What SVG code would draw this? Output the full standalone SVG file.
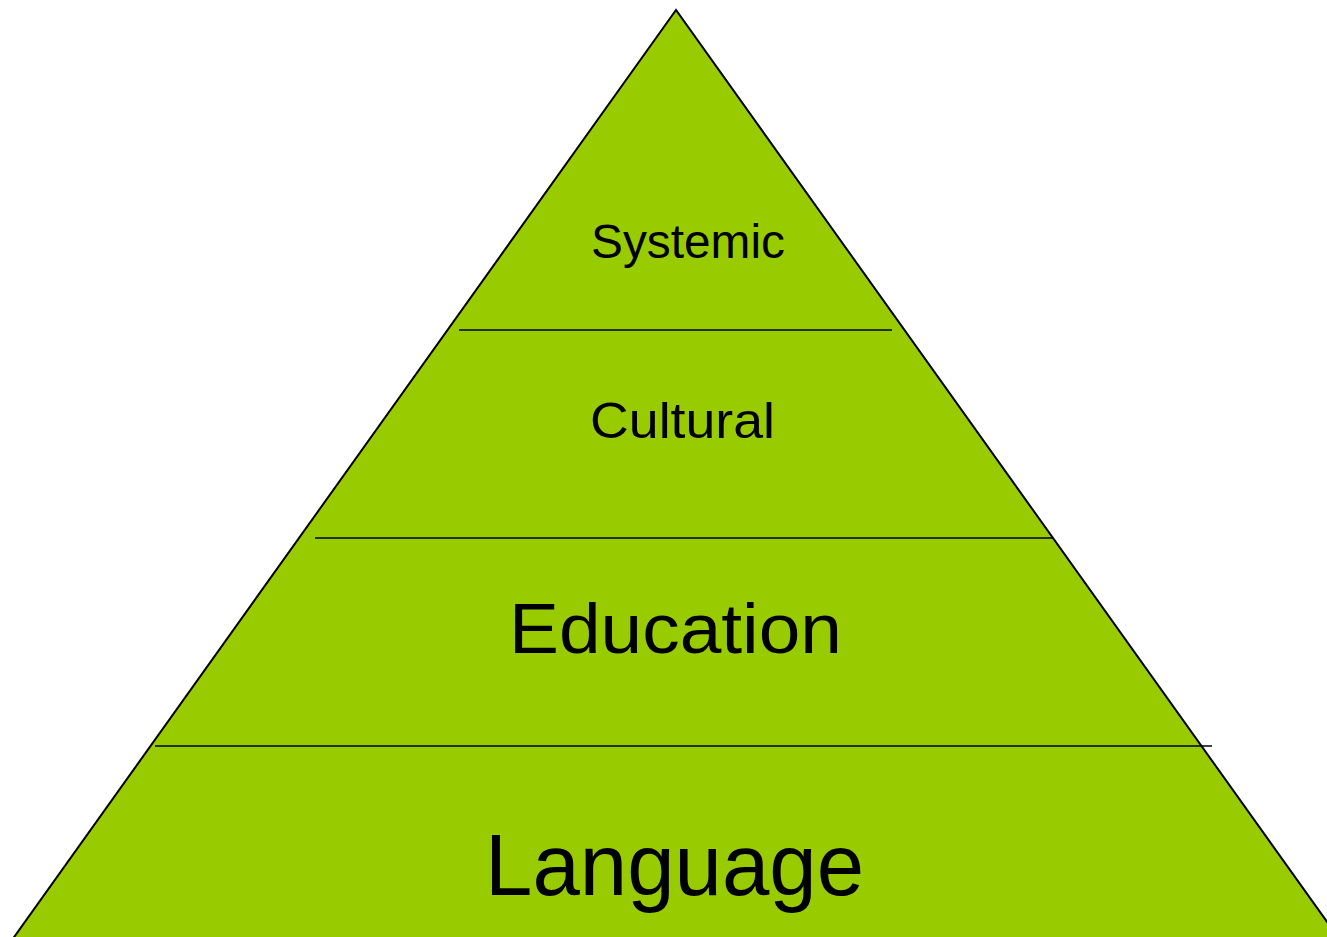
<svg xmlns="http://www.w3.org/2000/svg" width="1327" height="937" viewBox="0 0 1327 937">
<style>
.lbl{font-family:"Liberation Sans",Arial,sans-serif;fill:#000;}
.div{stroke:#000;stroke-width:1.5;fill:none;}
</style>
<rect width="1327" height="937" fill="#fff"/>
<g id="pyramid">
<polygon points="676,10 12,940 1340,940" fill="#99cc00" stroke="#000" stroke-width="2"/>
</g>
<g id="connectors">
<line class="div" x1="459" y1="330" x2="892" y2="330"/>
<line class="div" x1="315" y1="538" x2="1053" y2="538"/>
<line class="div" x1="155" y1="746" x2="1212" y2="746"/>
</g>
<g id="systemic"><text class="lbl" x="591" y="258" font-size="48" textLength="194" lengthAdjust="spacingAndGlyphs">Systemic</text></g>
<g id="cultural"><text class="lbl" x="590" y="438" font-size="50" textLength="185" lengthAdjust="spacingAndGlyphs">Cultural</text></g>
<g id="education"><text class="lbl" x="509" y="653" font-size="70" textLength="333" lengthAdjust="spacingAndGlyphs">Education</text></g>
<g id="language"><text class="lbl" x="485" y="895" font-size="88" textLength="379" lengthAdjust="spacingAndGlyphs">Language</text></g>
</svg>
